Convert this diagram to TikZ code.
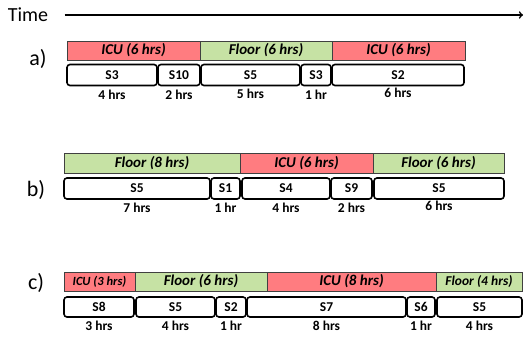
\documentclass[tikz,border=0pt]{standalone}
\usepackage{fontspec}
\setmainfont{Carlito}
\usepackage{xcolor}
\usepackage{tikz}
\usetikzlibrary{arrows,positioning}
\definecolor{icured}{RGB}{255,124,128}
\definecolor{floorgreen}{RGB}{198,226,164}
\tikzset{>=to}
\tikzset{unit bar/.style={draw=black!75,line width=0.9pt,minimum height=19pt,inner sep=0pt,outer sep=0pt,
              font=\fontsize{15}{15}\selectfont\bfseries\itshape},
         icu/.style={unit bar,fill=icured},
         flr/.style={unit bar,fill=floorgreen},
         stay/.style={draw,line width=1.6pt,rounded corners=3pt,fill=white,minimum height=21pt,
              inner sep=0pt,outer sep=0pt,font=\fontsize{13.5}{13.5}\selectfont\bfseries},
         hrs/.style={inner sep=1pt,font=\fontsize{13.5}{13.5}\selectfont\bfseries},
         case/.style={font=\fontsize{22}{22}\selectfont},
            }

\begin{document}
\begin{tikzpicture}[x=1pt,y=-1pt]

    \useasboundingbox (0,0) rectangle (525,338);

    \node[font=\fontsize{20}{20}\selectfont] (time) at (28,15) {Time};
    \coordinate (tend) at (523,15);
    \draw[->,line width=1.6pt] (time.east) ++(13pt,0) coordinate (tstart) -- (tend);

    % a)
    \node[case] (la) at (38,59) {a)};
    \node[icu,minimum width=133pt,anchor=west] (a1) at (67,50.5) {ICU (6 hrs)};
    \node[flr,minimum width=132pt] (a2) [right = 0pt of a1] {Floor (6 hrs)};
    \node[icu,minimum width=133pt] (a3) [right = 0pt of a2] {ICU (6 hrs)};

    \node[stay,minimum width=90pt,anchor=west] (sa1) at (67,75) {S3};
    \node[stay,minimum width=42pt] (sa2) [right = 1pt of sa1] {S10};
    \node[stay,minimum width=99pt] (sa3) [right = 1pt of sa2] {S5};
    \node[stay,minimum width=30pt] (sa4) [right = 1pt of sa3] {S3};
    \node[stay,minimum width=132pt] (sa5) [right = 1pt of sa4] {S2};

    \node[hrs] (ha1) [below = 3pt of sa1] {4 hrs};
    \node[hrs] (ha2) [below = 3pt of sa2] {2 hrs};
    \node[hrs] (ha3) [below = 2pt of sa3] {5 hrs};
    \node[hrs] (ha4) [below = 3pt of sa4] {1 hr};
    \node[hrs] (ha5) [below = 1pt of sa5] {6 hrs};

    % b)
    \node[case] (lb) at (36,190) {b)};
    \node[flr,minimum width=176pt,minimum height=20pt,anchor=west] (b1) at (64,163) {Floor (8 hrs)};
    \node[icu,minimum width=133pt,minimum height=20pt] (b2) [right = 0pt of b1] {ICU (6 hrs)};
    \node[flr,minimum width=131pt,minimum height=20pt] (b3) [right = 0pt of b2] {Floor (6 hrs)};

    \node[stay,minimum width=146pt,anchor=west] (sb1) at (64,188.5) {S5};
    \node[stay,minimum width=29pt] (sb2) [right = 1pt of sb1] {S1};
    \node[stay,minimum width=88pt] (sb3) [right = 2pt of sb2] {S4};
    \node[stay,minimum width=41pt] (sb4) [right = 1pt of sb3] {S9};
    \node[stay,minimum width=130pt] (sb5) [right = 2pt of sb4] {S5};

    \node[hrs] (hb1) [below = 3pt of sb1] {7 hrs};
    \node[hrs] (hb2) [below = 3pt of sb2] {1 hr};
    \node[hrs] (hb3) [below = 3pt of sb3] {4 hrs};
    \node[hrs] (hb4) [below = 3pt of sb4] {2 hrs};
    \node[hrs] (hb5) [below = 1pt of sb5] {6 hrs};

    % c)
    \node[case] (lc) at (36,283) {c)};
    \node[icu,minimum width=71pt,anchor=west,font=\fontsize{12.5}{12.5}\selectfont\bfseries\itshape] (c1) at (64,281.5) {ICU (3 hrs)};
    \node[flr,minimum width=132pt] (c2) [right = 0pt of c1] {Floor (6 hrs)};
    \node[icu,minimum width=169pt] (c3) [right = 0pt of c2] {ICU (8 hrs)};
    \node[flr,minimum width=86pt,font=\fontsize{13.5}{13.5}\selectfont\bfseries\itshape] (c4) [right = 0pt of c3] {Floor (4 hrs)};

    \node[stay,minimum width=70pt,minimum height=20pt,anchor=west] (sc1) at (64,307) {S8};
    \node[stay,minimum width=79pt,minimum height=20pt] (sc2) [right = 2pt of sc1] {S5};
    \node[stay,minimum width=30pt,minimum height=20pt] (sc3) [right = 1pt of sc2] {S2};
    \node[stay,minimum width=159pt,minimum height=20pt] (sc4) [right = 1pt of sc3] {S7};
    \node[stay,minimum width=28pt,minimum height=20pt] (sc5) [right = 1pt of sc4] {S6};
    \node[stay,minimum width=85pt,minimum height=20pt] (sc6) [right = 2pt of sc5] {S5};

    \node[hrs] (hc1) [below = 3pt of sc1] {3 hrs};
    \node[hrs] (hc2) [below = 3pt of sc2] {4 hrs};
    \node[hrs] (hc3) [below = 3pt of sc3] {1 hr};
    \node[hrs] (hc4) [below = 3pt of sc4] {8 hrs};
    \node[hrs] (hc5) [below = 3pt of sc5] {1 hr};
    \node[hrs] (hc6) [below = 3pt of sc6] {4 hrs};

\end{tikzpicture}
\end{document}
